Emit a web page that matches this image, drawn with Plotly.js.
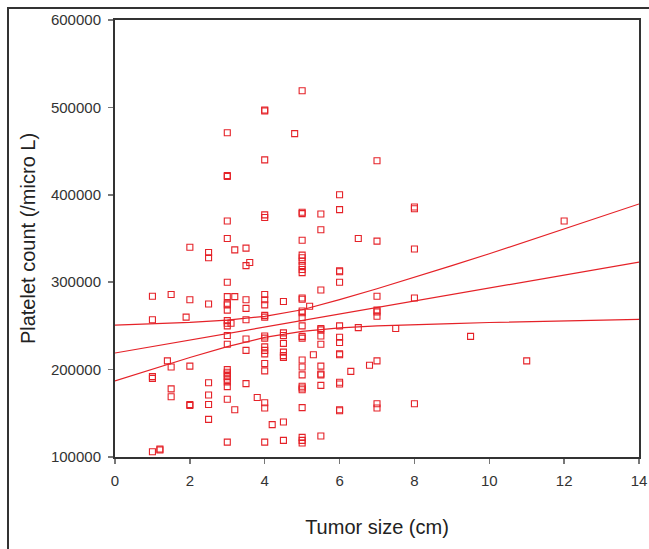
<!DOCTYPE html>
<html>
<head>
<meta charset="utf-8">
<script src="https://cdn.plot.ly/plotly-3.0.1.min.js"></script>
<style>
  html, body { margin: 0; padding: 0; background: #fff; }
  #chart { width: 649px; height: 549px; }
  #frame { position: absolute; left: 7px; top: 7px; width: 660px; height: 560px;
           border-left: 2px solid #333; border-top: 2px solid #333; pointer-events: none; }
</style>
</head>
<body>
<div id="chart"></div>
<div id="frame"></div>
<script>
// Tumor size values (cm) that occur in the data
const tumorSizes = [1, 1.2, 1.4, 1.5, 1.9, 2, 2.5, 3, 3.1, 3.2, 3.5, 3.6, 3.8, 4, 4.2, 4.5, 4.8, 5, 5.2, 5.3, 5.5, 6, 6.3, 6.5, 6.8, 7, 7.5, 8, 9.5, 11, 12];
// Platelet counts (/micro L) observed at each tumor size, same order as tumorSizes
const plateletBySize = [
  [284000, 257000, 192000, 190000, 106000],
  [109000, 108000],
  [210000],
  [286000, 203000, 178000, 169000],
  [260000],
  [340000, 280000, 204000, 160000, 159000],
  [334000, 328000, 275000, 185000, 171000, 160000, 143000],
  [471000, 422000, 421000, 370000, 350000, 300000, 283500, 276000, 274000, 268000, 256000, 253000,
   250000, 239000, 229000, 200000, 197000, 195000, 192000, 189000, 186000, 180500, 166000, 117000],
  [253000],
  [337000, 283500, 154000],
  [339000, 319000, 280000, 270000, 257000, 235000, 222000, 184000],
  [322500],
  [168000],
  [497000, 496000, 440000, 377000, 374000, 286000, 280000, 274000, 262000, 260000, 238500, 236000,
   226000, 222000, 218000, 207000, 198500, 162000, 156000, 117000],
  [137000],
  [278000, 242000, 239000, 230000, 220000, 216000, 214000, 140000, 119000],
  [470000],
  [519000, 380000, 378500, 348000, 331000, 328000, 324000, 319000, 314500, 311000, 282000, 280500,
   267000, 265000, 259500, 250000, 238000, 236000, 211000, 203000, 194000, 181000, 179000, 177000,
   156500, 122500, 119000, 116000],
  [272500],
  [217000],
  [378000, 360000, 291000, 247000, 245500, 238500, 229000, 204000, 195000, 194000, 182000, 124000],
  [400000, 383000, 313000, 312000, 300000, 250000, 237000, 231000, 218000, 217000, 185500, 183500, 154000, 153000],
  [198000],
  [350000, 248000],
  [205000],
  [439000, 347000, 284000, 268000, 266000, 261000, 210000, 161000, 156000],
  [247000],
  [386000, 384000, 338000, 282000, 161000],
  [238000],
  [210000],
  [370000]
];

// Fitted regression line and its confidence band
const fitX      = [0, 1, 2, 3, 4, 5, 6, 7, 8, 9, 10, 11, 12, 13, 14];
const fitLine   = [219000, 226400, 233900, 241300, 248700, 256200, 263600, 271000, 278400, 285900, 293300, 300700, 308200, 315600, 323000];
const fitUpper  = [251000, 252300, 254000, 256500, 261000, 268500, 280000, 292500, 305500, 319000, 332500, 346800, 361000, 375000, 389500];
const fitLower  = [187000, 200800, 213900, 226200, 236800, 243800, 247800, 250000, 251600, 252700, 253900, 254600, 255500, 256200, 257500];

const xTicks = [0, 2, 4, 6, 8, 10, 12, 14];
const yTicks = [100000, 200000, 300000, 400000, 500000, 600000];

// pair each count with its tumor size
const ptsX = [], ptsY = [];
tumorSizes.forEach((s, i) => plateletBySize[i].forEach(v => { ptsX.push(s); ptsY.push(v); }));

const red = '#e52228';
const lineStyle = {color: red, width: 1.2};

const traces = [
  {x: ptsX, y: ptsY, type: 'scatter', mode: 'markers',
   marker: {symbol: 'square-open', size: 6, color: red, line: {width: 1.1, color: red}},
   hoverinfo: 'x+y'},
  {x: fitX, y: fitUpper, type: 'scatter', mode: 'lines', line: lineStyle, hoverinfo: 'skip'},
  {x: fitX, y: fitLine,  type: 'scatter', mode: 'lines', line: lineStyle, hoverinfo: 'skip'},
  {x: fitX, y: fitLower, type: 'scatter', mode: 'lines', line: lineStyle, hoverinfo: 'skip'}
];

const fontFam = 'Arial, "Liberation Sans", Helvetica, sans-serif';

const layout = {
  width: 649, height: 549,
  margin: {l: 115, r: 10, t: 20, b: 92},
  paper_bgcolor: '#ffffff', plot_bgcolor: '#ffffff',
  showlegend: false,
  font: {family: fontFam, color: '#333'},
  xaxis: {
    range: [0, 14], tickmode: 'array', tickvals: xTicks, ticktext: xTicks.map(String),
    showgrid: false, zeroline: false,
    showline: true, mirror: true, linecolor: '#333', linewidth: 2,
    ticks: 'outside', ticklen: 5, tickwidth: 1.5, tickcolor: '#777',
    ticklabelstandoff: 4,
    tickfont: {size: 15, color: '#333', family: fontFam},
    title: {text: 'Tumor size (cm)', font: {size: 20, color: '#222', family: fontFam}, standoff: 32}
  },
  yaxis: {
    range: [100000, 600000], tickmode: 'array', tickvals: yTicks, ticktext: yTicks.map(String),
    showgrid: false, zeroline: false,
    showline: true, mirror: true, linecolor: '#333', linewidth: 2,
    ticks: 'outside', ticklen: 5, tickwidth: 1.5, tickcolor: '#777',
    ticklabelstandoff: 4,
    tickfont: {size: 15, color: '#333', family: fontFam},
    title: {text: 'Platelet count (/micro L)', font: {size: 20, color: '#222', family: fontFam}, standoff: 10}
  }
};

Plotly.newPlot('chart', traces, layout, {displayModeBar: false, staticPlot: true});
</script>
</body>
</html>
